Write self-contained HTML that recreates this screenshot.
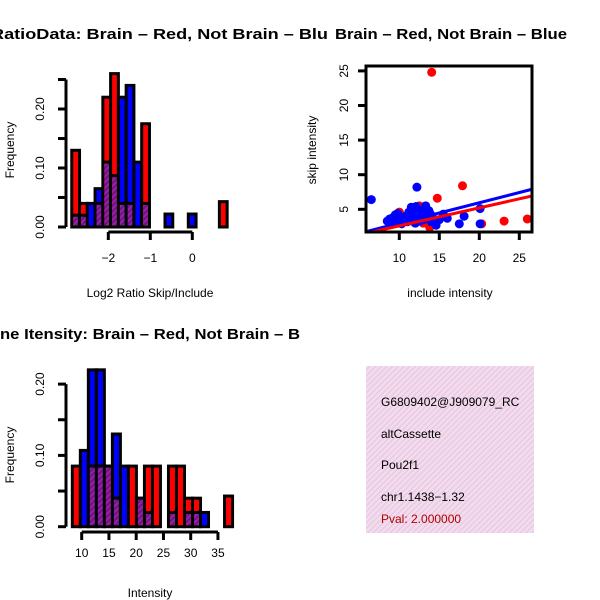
<!DOCTYPE html>
<html><head><meta charset="utf-8"><style>
body{margin:0;background:#fff;}
svg{display:block;font-family:"Liberation Sans",sans-serif;}
</style></head><body>
<svg id="c" width="600" height="600" viewBox="0 0 600 600">
<defs>
<pattern id="hatch" width="4" height="4" patternUnits="userSpaceOnUse" patternTransform="rotate(45)">
<rect width="4" height="4" fill="#9a1fa8"/><rect width="2" height="4" fill="#6e1480"/>
</pattern>
<pattern id="pink" width="4" height="4" patternUnits="userSpaceOnUse" patternTransform="rotate(45)">
<rect width="4" height="4" fill="#f8d8f2"/><rect width="1.3" height="4" fill="#dcd0d8"/>
</pattern>
<clipPath id="scClip"><rect x="366" y="66" width="166" height="166"/></clipPath>
<clipPath id="infoClip"><rect x="366" y="366" width="168" height="167"/></clipPath>
</defs>
<g id="g1"></g><g id="g2"></g><g id="g3"></g>
<g>
<rect x="366" y="366" width="168" height="167" fill="url(#pink)"/>
<g clip-path="url(#infoClip)" font-size="12">
<text x="381" y="406">G6809402@J909079_RC</text>
<text x="381" y="438">altCassette</text>
<text x="381" y="469">Pou2f1</text>
<text x="381" y="501">chr1.1438−1.32</text>
<text x="381" y="523" fill="#b00000">Pval: 2.000000</text>
</g></g>
</svg>
<script>
// ---- Histogram 1 (log2 ratio) ----
const h1Red  = [0.13,0.04,0,0.04,0.22,0.26,0.04,0.04,0,0.175,0,0,0,0,0,0,0,0,0,0.043];
const h1Blue = [0.02,0.02,0.04,0.065,0.11,0.087,0.22,0.24,0.11,0.04,0,0,0.022,0,0,0.022,0,0,0,0];
const h1Start = -2.87, h1Width = 0.185;
const h1XTicks = [-2,-1,0];
const h1YTicks = [0,0.05,0.10,0.15,0.20,0.25];
const h1YLabels = [0,0.10,0.20];
// ---- Histogram 2 (intensity) ----
const h2Red  = [0.085,0,0.085,0.085,0.085,0.04,0,0.085,0.04,0.085,0.085,0,0.085,0.085,0.04,0.04,0,0,0,0.043];
const h2Blue = [0,0.107,0.22,0.22,0.085,0.13,0.085,0,0.04,0.02,0,0,0.02,0,0.02,0.02,0.02,0,0,0];
const h2Start = 8.28, h2Width = 1.47;
const h2XTicks = [10,15,20,25,30,35];
const h2YTicks = [0,0.05,0.10,0.15,0.20];
const h2YLabels = [0,0.10,0.20];
// ---- Scatter ----
const redX  = [10,12.5,13.8,14.05,14.75,17.9,20.3,23.1,26,11,14,9.5,12,13,10.5,11.8];
const redY  = [4.6,5.5,2.4,24.8,6.6,8.4,2.9,3.3,3.6,3.5,3.9,3.4,4.8,3.0,4.0,3.2];
const blueX = [8.5,9,9.5,10,10.3,10.8,11,11.5,11.8,12,12.5,13,13.3,13.7,14,14.6,15.5,16,12.2,6.5,17.5,18.1,20.1,20.1,
               9.2,9.8,10.5,11.2,11.6,12.3,12.8,13.5,14.3,10.2,11.4,12.6,13.1,8.8,15.0,11.9,12.1,13.9];
const blueY = [3.3,3.0,4.2,3.5,2.9,4.0,3.2,5.3,4.5,3.0,4.2,3.5,5.5,4.8,3.2,2.7,4.3,3.7,8.2,6.4,2.9,4.0,5.1,2.9,
               3.8,4.4,3.8,4.6,3.6,5.0,3.9,4.1,3.6,3.0,3.9,3.3,4.6,3.6,3.5,4.9,5.4,4.3];
const redFit = [0.01,0.26];   // intercept, slope
const blueFit = [0.05,0.295];
const scXTicks = [10,15,20,25];
const scYTicks = [5,10,15,20,25];

const NS="http://www.w3.org/2000/svg";
function mk(p,tag,a){const e=document.createElementNS(NS,tag);for(const k in a)e.setAttribute(k,a[k]);p.appendChild(e);return e;}
function txt(p,x,y,s,a){const t=mk(p,'text',Object.assign({x:x,y:y},a||{}));t.textContent=s;return t;}
function fmt(v){return v<0?'−'+Math.abs(v):String(v);}

function hist(g,red,blue,start,w,sx,sy,base){
  for(let i=0;i<red.length;i++){
    const r=red[i],b=blue[i];const hi=Math.max(r,b),lo=Math.min(r,b);
    if(hi<=0)continue;
    const x0=sx(start+i*w),x1=sx(start+(i+1)*w);
    const bar=mk(g,'rect',{x:x0,y:sy(hi),width:x1-x0,height:base-sy(hi),fill:r>=b?'#ff0000':'#0000ff',stroke:'#000','stroke-width':3});
    
    
    if(lo>0){
      const ov=mk(g,'rect',{x:x0+1.5,y:sy(lo),width:x1-x0-3,height:base-sy(lo)-1.5,fill:'url(#hatch)'});
      
      
      mk(g,'line',{x1:x0,x2:x1,y1:sy(lo),y2:sy(lo),stroke:'#000','stroke-width':3});
    }
  }
}
function yaxis(g,ticks,labels,sy,x,fmtf){
  mk(g,'line',{x1:x,x2:x,y1:sy(ticks[0]),y2:sy(ticks[ticks.length-1]),stroke:'#000','stroke-width':3});
  ticks.forEach(t=>mk(g,'line',{x1:x-8,x2:x,y1:sy(t),y2:sy(t),stroke:'#000','stroke-width':3}));
  labels.forEach(t=>{const e=txt(g,x-22,sy(t),fmtf(t),{'font-size':12,'text-anchor':'middle',transform:`rotate(-90 ${x-22} ${sy(t)})`});
    });
}
function xaxis(g,ticks,sx,y){
  mk(g,'line',{x1:sx(ticks[0]),x2:sx(ticks[ticks.length-1]),y1:y,y2:y,stroke:'#000','stroke-width':3});
  ticks.forEach(t=>{mk(g,'line',{x1:sx(t),x2:sx(t),y1:y,y2:y+8,stroke:'#000','stroke-width':3});
    const e=txt(g,sx(t),y+25,fmt(t),{'font-size':12,'text-anchor':'middle'});
    });
}
// Panel 1
{const g=document.getElementById('g1');
 
 const sx=v=>192.3+42*v, sy=v=>227-590*v;
 hist(g,h1Red,h1Blue,h1Start,h1Width,sx,sy,227);
 yaxis(g,h1YTicks,h1YLabels,sy,66,v=>v.toFixed(2));
 mk(g,'line',{x1:sx(-2),x2:sx(0),y1:232,y2:232,stroke:'#000','stroke-width':3});
 h1XTicks.forEach(t=>{mk(g,'line',{x1:sx(t),x2:sx(t),y1:232,y2:240,stroke:'#000','stroke-width':3});
   const e=txt(g,sx(t),262,fmt(t),{'font-size':12,'text-anchor':'middle'});
   });
 const t=txt(g,-9,39,'RatioData: Brain – Red, Not Brain – Blu',{'font-size':15,'font-weight':'bold',textLength:337,lengthAdjust:'spacingAndGlyphs'});
 
 const xl=txt(g,150,297,'Log2 Ratio Skip/Include',{'font-size':12,'text-anchor':'middle'});
 
 const yl=txt(g,14,150,'Frequency',{'font-size':12,'text-anchor':'middle',transform:'rotate(-90 14 150)'});
 }
// Panel 2 scatter
{const g=document.getElementById('g2');
 
 const sx=v=>319.3+8*v, sy=v=>243.9-6.92*v;
 const pg=mk(g,'g',{'clip-path':'url(#scClip)'});
 redX.forEach((x,i)=>{const c=mk(pg,'circle',{cx:sx(x),cy:sy(redY[i]),r:4.5,fill:'#ff0000'});
   });
 blueX.forEach((x,i)=>{const c=mk(pg,'circle',{cx:sx(x),cy:sy(blueY[i]),r:4.5,fill:'#0000ff'});
   });
 const x0=5.84,x1=26.6;
 const bl=mk(pg,'line',{x1:sx(x0),y1:sy(blueFit[0]+blueFit[1]*x0),x2:sx(x1),y2:sy(blueFit[0]+blueFit[1]*x1),stroke:'#0000ff','stroke-width':3});
 
 const rl=mk(pg,'line',{x1:sx(x0),y1:sy(redFit[0]+redFit[1]*x0),x2:sx(x1),y2:sy(redFit[0]+redFit[1]*x1),stroke:'#ff0000','stroke-width':3});
 
 mk(g,'rect',{x:366,y:66,width:166,height:166,fill:'none',stroke:'#000','stroke-width':3});
 scXTicks.forEach(t=>{mk(g,'line',{x1:sx(t),x2:sx(t),y1:232,y2:240,stroke:'#000','stroke-width':3});
   const e=txt(g,sx(t),262,String(t),{'font-size':12,'text-anchor':'middle'});
   });
 scYTicks.forEach(t=>{mk(g,'line',{x1:358,x2:366,y1:sy(t),y2:sy(t),stroke:'#000','stroke-width':3});
   const e=txt(g,348,sy(t),String(t),{'font-size':12,'text-anchor':'middle',transform:`rotate(-90 348 ${sy(t)})`});
   });
 const t=txt(g,451,39,'Brain – Red, Not Brain – Blue',{'font-size':15,'font-weight':'bold','text-anchor':'middle',textLength:232,lengthAdjust:'spacingAndGlyphs'});
 
 const xl=txt(g,450,297,'include intensity',{'font-size':12,'text-anchor':'middle'});
 
 const yl=txt(g,316,150,'skip intensity',{'font-size':12,'text-anchor':'middle',transform:'rotate(-90 316 150)'});
 }
// Panel 3
{const g=document.getElementById('g3');
 
 const sx=v=>81.7+5.45*(v-10), sy=v=>526.7-713*v;
 hist(g,h2Red,h2Blue,h2Start,h2Width,sx,sy,526.7);
 yaxis(g,h2YTicks,h2YLabels,sy,66,v=>v.toFixed(2));
 xaxis(g,h2XTicks,sx,532);
 const t=txt(g,0,339,'ne Itensity: Brain – Red, Not Brain – B',{'font-size':15,'font-weight':'bold',textLength:300,lengthAdjust:'spacingAndGlyphs'});
 
 const xl=txt(g,150,597,'Intensity',{'font-size':12,'text-anchor':'middle'});
 
 const yl=txt(g,14,455,'Frequency',{'font-size':12,'text-anchor':'middle',transform:'rotate(-90 14 455)'});
 }
</script>
</body></html>
